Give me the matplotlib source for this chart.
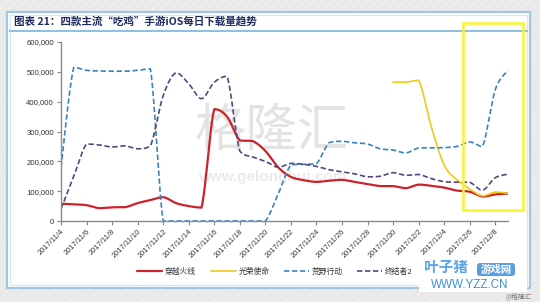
import numpy as np
import matplotlib
matplotlib.use("Agg")
import matplotlib.pyplot as plt
from matplotlib.patches import Rectangle, FancyBboxPatch

CJK = ["Noto Sans CJK SC", "DejaVu Sans"]
NUM = ["Liberation Sans", "DejaVu Sans"]

dates = ["2017/11/4", "2017/11/5", "2017/11/6", "2017/11/7", "2017/11/8", "2017/11/9",
         "2017/11/10", "2017/11/11", "2017/11/12", "2017/11/13", "2017/11/14", "2017/11/15",
         "2017/11/16", "2017/11/17", "2017/11/18", "2017/11/19", "2017/11/20", "2017/11/21",
         "2017/11/22", "2017/11/23", "2017/11/24", "2017/11/25", "2017/11/26", "2017/11/27",
         "2017/11/28", "2017/11/29", "2017/11/30", "2017/12/1", "2017/12/2", "2017/12/3",
         "2017/12/4", "2017/12/5", "2017/12/6", "2017/12/7", "2017/12/8", "2017/12/9"]

chuanyue = [58000, 56000, 53000, 43000, 46000, 46000, 60000, 70000, 80000, 60000,
            50000, 45000, 375000, 350000, 270000, 268000, 235000, 180000, 148000, 137000,
            131000, 135000, 138000, 131000, 124000, 117000, 117000, 110000, 122000, 118000,
            112000, 102000, 98000, 82000, 89000, 92000]
guangrong = [np.nan] * 26 + [465000, 465000, 472000, 315000, 188000, 138000, 108000, 84000, 97000, 93000]
huangye = [180000, 515000, 505000, 503000, 502000, 502000, 505000, 510000, 0, 0,
           0, 0, 0, 0, 0, 0, 0, 90000, 188000, 190000,
           192000, 263000, 267000, 262000, 258000, 242000, 238000, 228000, 245000, 245000,
           246000, 250000, 265000, 250000, 440000, 505000]
zhongjie = [40000, 150000, 258000, 255000, 248000, 252000, 242000, 252000, 420000, 497000,
            460000, 410000, 465000, 485000, 235000, 215000, 200000, 180000, 193000, 190000,
            183000, 172000, 165000, 158000, 148000, 150000, 162000, 153000, 156000, 142000,
            132000, 130000, 130000, 103000, 145000, 157000]

series = [
    ("穿越火线", chuanyue, "#cc2229", "-", 1.6),
    ("光荣使命", guangrong, "#f2c81a", "-", 1.2),
    ("荒野行动", huangye, "#3a84bd", (0, (3.2, 1.6)), 1.2),
    ("终结者2", zhongjie, "#55467f", (0, (3.2, 1.6)), 1.2),
]


def smooth(xs, ys, n=24):
    xs = np.asarray(xs, float)
    ys = np.asarray(ys, float)
    m = np.isfinite(ys)
    xs, ys = xs[m], ys[m]
    P = np.column_stack([xs, ys])
    out = []
    for i in range(len(P) - 1):
        p0 = P[i - 1] if i > 0 else P[i]
        p1 = P[i]
        p2 = P[i + 1]
        p3 = P[i + 2] if i + 2 < len(P) else P[i + 1]
        c1 = p1 + (p2 - p0) / 6.0
        c2 = p2 - (p3 - p1) / 6.0
        lo, hi = min(p1[1], p2[1]), max(p1[1], p2[1])
        c1[1] = np.clip(c1[1], lo, hi)
        c2[1] = np.clip(c2[1], lo, hi)
        t = np.linspace(0, 1, n, endpoint=False)[:, None]
        seg = ((1 - t) ** 3) * p1 + 3 * ((1 - t) ** 2) * t * c1 + 3 * (1 - t) * t ** 2 * c2 + t ** 3 * p2
        out.append(seg)
    out.append(P[-1:])
    S = np.vstack(out)
    return S[:, 0], S[:, 1]


W, H = 540, 302
fig = plt.figure(figsize=(W / 100, H / 100), dpi=100)
fig.patch.set_facecolor("#e9e9e9")

# background / decoration layer in pixel coordinates
bg = fig.add_axes([0, 0, 1, 1], zorder=0)
bg.set_xlim(0, W)
bg.set_ylim(H, 0)
bg.axis("off")
for k in range(-300, 900, 9):
    bg.plot([k, k + 300], [H, 0], color="white", lw=0.8, alpha=0.35, zorder=0)
bg.add_patch(Rectangle((7, 12), 523, 276, facecolor="white", edgecolor="#a3c6e0", lw=1.6, zorder=1))
bg.add_patch(Rectangle((10, 15), 517, 270, facecolor="none", edgecolor="#d5e6f2", lw=0.8, zorder=1))
bg.plot([10, 527], [31, 31], color="#8fc0e2", lw=1.5, zorder=2)
bg.text(14, 21.5, "图表 21：四款主流“吃鸡”手游iOS每日下载量趋势", family=CJK, fontsize=7.6,
        fontweight="bold", style="italic", color="#1d2b5e", ha="left", va="center", zorder=3)
# watermark
bg.text(272, 131, "格隆汇", family=CJK, fontsize=37, fontweight="light", color="#e3e3e3",
        ha="center", va="center", zorder=2)
bg.text(272, 177, "www.gelonghui.com", family=NUM, fontsize=11, fontweight="bold",
        color="#eaeaea", ha="center", va="center", zorder=2)

# main chart
ax = fig.add_axes([61 / W, 1 - 221 / H, (508 - 61) / W, (221 - 42) / H], zorder=2)
ax.patch.set_alpha(0)
x = np.arange(len(dates))
for name, vals, col, ls, lw in series:
    sx, sy = smooth(x, vals)
    ax.plot(sx, sy, color=col, ls=ls, lw=lw, label=name, solid_capstyle="round")

ax.set_xlim(0, len(dates) - 1)
ax.set_ylim(0, 600000)
yt = np.arange(0, 600001, 100000)
ax.set_yticks(yt)
ax.set_yticklabels([f"{v:,}" for v in yt], family=NUM, fontsize=5.6, color="#333333")
ax.set_xticks(x[::2])
ax.set_xticklabels(dates[::2], family=NUM, fontsize=5.4, color="#333333",
                   rotation=45, ha="right", va="top", rotation_mode="anchor")
for s in ["top", "right"]:
    ax.spines[s].set_visible(False)
for s in ["left", "bottom"]:
    ax.spines[s].set_color("#8a8a8a")
    ax.spines[s].set_linewidth(1.0)
ax.tick_params(axis="both", direction="out", length=3, width=0.8, color="#8a8a8a", pad=2)

leg = fig.legend(loc="center", bbox_to_anchor=(275 / W, 1 - 272 / H), ncol=4, frameon=False,
                 prop={"family": CJK, "size": 5.6}, handlelength=3.2, handletextpad=0.35,
                 columnspacing=1.9)
for t in leg.get_texts():
    t.set_color("#333333")

# overlay layer
ov = fig.add_axes([0, 0, 1, 1], zorder=3)
ov.set_xlim(0, W)
ov.set_ylim(H, 0)
ov.axis("off")
ov.patch.set_alpha(0)
ov.add_patch(Rectangle((463, 23), 60, 187, facecolor="none", edgecolor="#f6f52a", lw=1.8))
ov.add_patch(Rectangle((419, 257), 108, 35, facecolor="white", edgecolor="none"))
ov.text(424, 266.5, "叶子猪", family=CJK, fontsize=10.5, fontweight="bold", color="#5aa3ea",
        ha="left", va="center")
ov.add_patch(FancyBboxPatch((477, 263), 38, 13, boxstyle="round,pad=0,rounding_size=3",
                            facecolor="#5a9de0", edgecolor="none"))
ov.text(496, 269.5, "游戏网", family=CJK, fontsize=7.5, fontweight="bold", color="white",
        ha="center", va="center")
ov.text(470, 284.5, "WWW.YZZ.CN", family=NUM, fontsize=8.4, color="#3f8fdc",
        ha="center", va="center")
ov.text(519, 296, "@格隆汇", family=CJK, fontsize=4.8, color="#777777", ha="center", va="center")

fig.savefig("out.png", dpi=100, facecolor=fig.get_facecolor())
